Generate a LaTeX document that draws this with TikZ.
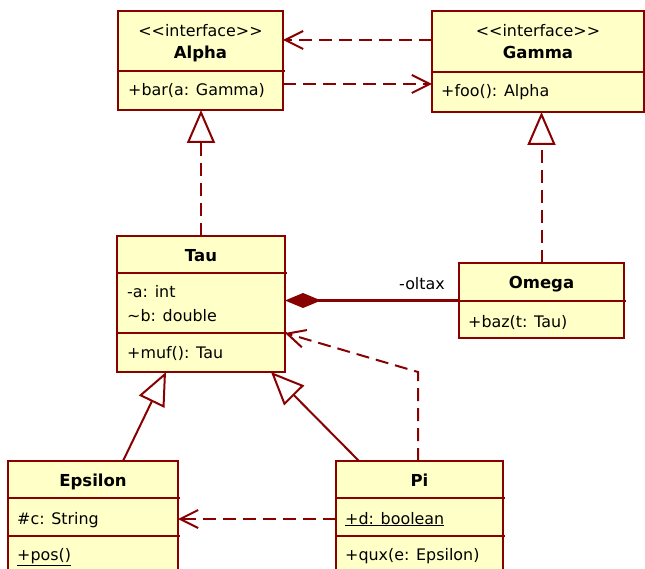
\documentclass[tikz,border=0pt]{standalone}
\usepackage{fontspec}
\setmainfont{DejaVu Sans}
\usetikzlibrary{arrows.meta}
\definecolor{umlred}{RGB}{136,0,0}
\definecolor{umlfill}{RGB}{255,255,200}
\begin{document}
\begin{tikzpicture}[x=1pt,y=-1pt,
  font=\fontsize{15.9}{19}\selectfont,
  classbox/.style={draw=umlred, fill=umlfill, line width=2pt, rectangle, inner sep=0pt, outer sep=0pt},
  divider/.style={draw=umlred, line width=2pt},
  lbl/.style={inner sep=0pt, anchor=base west},
  ttl/.style={inner sep=0pt, anchor=base, font=\fontsize{16.5}{19}\selectfont\bfseries},
  stereo/.style={inner sep=0pt, anchor=base},
  conn/.style={draw=umlred, line width=2pt},
  dep/.style={conn, dash pattern=on 13pt off 7pt, -{Straight Barb[length=18pt,width=18pt]}},
  realize/.style={conn, dash pattern=on 13pt off 7pt, -{Triangle[open, length=33pt, width=28pt]}},
  gen/.style={conn, -{Triangle[open, length=33pt, width=28pt]}},
  comp/.style={conn, {Diamond[length=36pt, width=15pt]}-},
]
\useasboundingbox (0,0) rectangle (645,569);
\clip (0,0) rectangle (645,569);

% class boxes
\node[classbox, minimum width=165pt, minimum height=99pt] (alpha) at (200.5,60.5) {};
\node[classbox, minimum width=212pt, minimum height=101pt] (gamma) at (538,61.5) {};
\node[classbox, minimum width=168pt, minimum height=136pt] (tau) at (201,304) {};
\node[classbox, minimum width=165pt, minimum height=75pt] (omega) at (541.5,300.5) {};
\node[classbox, minimum width=170pt, minimum height=139pt] (epsilon) at (93,530.5) {};
\node[classbox, minimum width=167pt, minimum height=139pt] (pi) at (419.5,530.5) {};

% compartment dividers
\draw[divider] (118,71) -- (285,71);
\draw[divider] (432,72) -- (645,72);
\draw[divider] (117,273) -- (287,273);
\draw[divider] (117,333) -- (287,333);
\draw[divider] (459,301) -- (626,301);
\draw[divider] (8,498) -- (180,498);
\draw[divider] (8,536) -- (180,536);
\draw[divider] (336,498) -- (505,498);
\draw[divider] (336,536) -- (505,536);

% texts
\node[stereo] (alphaS) at (200.5,37) {<{}<interface>{}>};
\node[ttl] (alphaN) at (200.5,59) {Alpha};
\node[lbl] (alphaO) at (128,96) {+bar(a: Gamma)};

\node[stereo] (gammaS) at (538,37) {<{}<interface>{}>};
\node[ttl] (gammaN) at (538,59) {Gamma};
\node[lbl] (gammaO) at (441,97) {+foo(): Alpha};

\node[ttl] (tauN) at (201,262) {Tau};
\node[lbl] (tauA) at (127,298) {-a: int};
\node[lbl] (tauB) at (127,321) {\char"007E b: double};
\node[lbl] (tauO) at (127,358) {+muf(): Tau};

\node[ttl] (omegaN) at (541.5,288) {Omega};
\node[lbl] (omegaO) at (468,327) {+baz(t: Tau)};

\node[ttl] (epsN) at (93,486) {Epsilon};
\node[lbl] (epsA) at (17,524) {\#c: String};
\node[lbl] (epsO) at (17,560) {\underline{+pos()}};

\node[ttl] (piN) at (419.5,486) {Pi};
\node[lbl] (piA) at (345,524) {\underline{+d: boolean}};
\node[lbl] (piO) at (345,560) {+qux(e: Epsilon)};

% connectors
\path ([yshift=21.5pt]gamma.west) coordinate (g1);
\draw[dep] (g1) -- (g1 -| alpha.east);
\path ([yshift=-23.5pt]alpha.east) coordinate (a1);
\draw[dep] (a1) -- (a1 -| gamma.west);

\draw[realize] (tau.north) -- (tau.north |- alpha.south);
\draw[realize] (omega.north) -- (omega.north |- gamma.south);

\draw[comp] (omega.west -| tau.east) -- (omega.west);
\node[inner sep=0pt, anchor=base east] (oltax) at (445,290) {-oltax};

\path ([xshift=30pt]epsilon.north) coordinate (e1);
\draw[gen] (e1) -- ([xshift=-35pt]tau.south);
\path ([xshift=-60.5pt]pi.north) coordinate (p1);
\draw[gen] (p1) -- ([xshift=70pt]tau.south);

\path ([xshift=-1.5pt]pi.north) coordinate (p2);
\draw[dep] (p2) -- (p2 |- tau.south) -- ([yshift=-29pt]tau.east);

\path ([yshift=11.5pt]pi.west) coordinate (p3);
\draw[dep] (p3) -- (p3 -| epsilon.east);
\end{tikzpicture}
\end{document}
